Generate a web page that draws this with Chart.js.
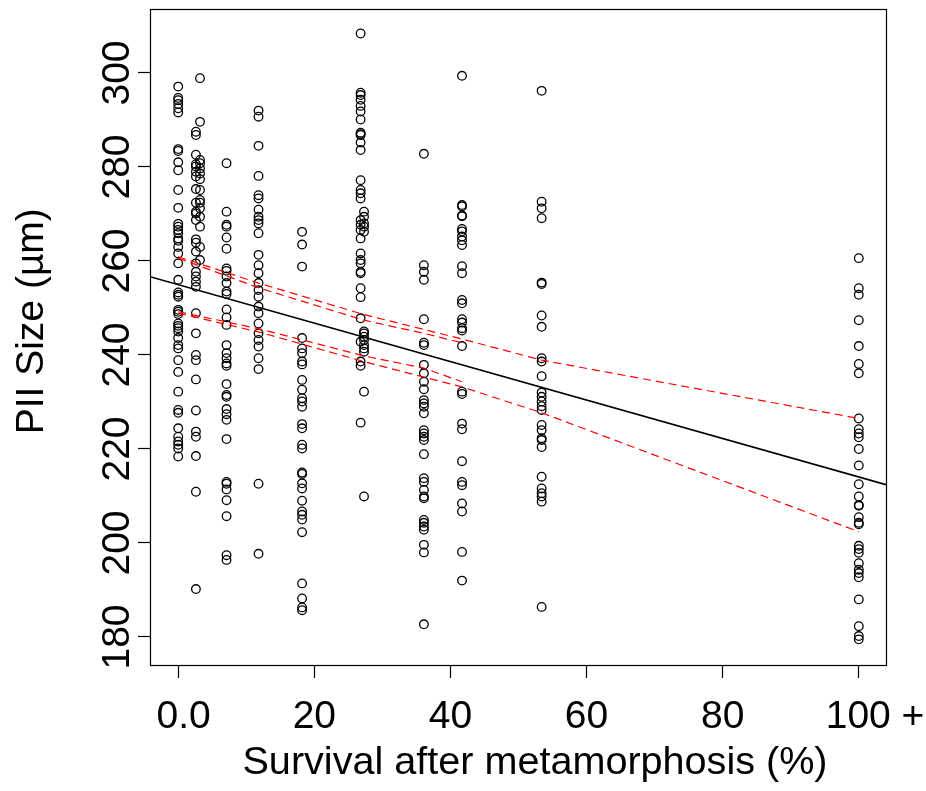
<!DOCTYPE html>
<html><head><meta charset="utf-8">
<script src="https://cdn.jsdelivr.net/npm/chart.js@4.4.1/dist/chart.umd.min.js"></script>
<style>html,body{margin:0;padding:0;background:#fff;} #wrap{width:926px;height:791px;}</style>
</head><body><div id="wrap"><canvas id="c" width="926" height="791"></canvas></div>
<script>
// ---- data ----
const groupX = [0, 2.6, 3.2, 7.1, 11.8, 18.2, 26.8, 27.3, 36.1, 41.7, 53.4, 100];

const y_0 = [297.1, 294.7, 294.2, 293.4, 292.5, 291.6, 283.8, 283.4, 281.0, 279.3, 275.1, 271.3, 267.9, 267.3, 266.6, 265.9, 264.8, 264.3, 263.0, 261.6, 259.5, 256.0, 253.3, 252.8, 252.4, 249.6, 249.2, 248.7, 246.7, 246.2, 245.7, 245.0, 243.6, 242.1, 241.4, 238.9, 236.4, 232.2, 228.3, 227.7, 224.4, 222.6, 221.6, 220.9, 220.1, 218.4];
const y_2_6 = [287.5, 286.8, 282.6, 280.6, 280.1, 279.0, 278.0, 275.3, 272.4, 270.5, 270.1, 268.7, 264.6, 263.9, 262.0, 259.5, 257.7, 256.7, 255.6, 254.5, 248.9, 244.6, 240.0, 238.9, 234.8, 228.2, 223.7, 222.6, 218.5, 210.9, 190.2];
const y_3_2 = [298.9, 289.6, 281.5, 280.8, 279.7, 278.6, 277.4, 275.1, 273.0, 272.4, 271.2, 269.4, 267.3, 263.0, 260.2];
const y_7_1 = [280.8, 270.5, 267.7, 267.3, 265.0, 262.6, 258.4, 257.9, 256.7, 255.3, 253.5, 253.0, 249.7, 248.0, 246.4, 242.1, 240.4, 239.3, 238.2, 237.7, 233.8, 231.5, 231.1, 228.5, 227.4, 226.2, 222.1, 213.0, 212.6, 211.4, 209.1, 205.7, 197.4, 196.4];
const y_11_8 = [292.0, 290.7, 284.5, 278.1, 274.0, 273.3, 270.9, 269.4, 268.7, 268.0, 265.9, 261.3, 259.1, 257.4, 255.3, 253.8, 252.4, 250.3, 248.9, 246.7, 244.6, 243.2, 241.8, 239.3, 237.0, 212.6, 197.7];
const y_18_2 = [266.2, 263.5, 258.8, 243.6, 241.4, 240.4, 238.6, 238.0, 234.7, 232.6, 230.8, 230.1, 229.0, 225.3, 224.4, 220.9, 220.1, 215.0, 214.7, 212.7, 211.6, 209.0, 206.7, 206.0, 205.0, 202.3, 191.4, 188.2, 186.3, 185.7];
const y_26_8 = [308.4, 295.8, 295.3, 294.3, 293.0, 291.8, 290.1, 287.3, 287.0, 286.8, 285.2, 283.6, 277.2, 275.1, 274.4, 273.3, 268.7, 267.7, 266.6, 264.8, 261.6, 260.2, 259.5, 257.7, 257.4, 254.2, 252.3, 247.8, 242.8, 238.6, 237.7, 225.6];
const y_27_3 = [270.5, 269.4, 268.0, 267.3, 266.2, 245.0, 244.6, 243.9, 243.2, 242.1, 241.4, 240.7, 232.2, 209.9];
const y_36_1 = [282.8, 259.1, 257.7, 256.0, 247.6, 242.6, 242.1, 237.9, 236.1, 234.3, 232.7, 230.4, 229.7, 229.0, 227.6, 224.0, 223.3, 222.6, 221.9, 218.9, 213.8, 213.0, 211.3, 209.9, 209.5, 204.9, 204.3, 203.5, 202.8, 199.6, 198.0, 182.7];
const y_41_7 = [299.4, 271.9, 271.6, 269.7, 269.5, 266.8, 266.3, 265.2, 264.4, 263.4, 258.9, 257.4, 251.7, 251.0, 247.6, 246.9, 245.7, 245.2, 241.9, 232.2, 231.7, 225.4, 224.2, 217.4, 213.0, 212.3, 208.4, 206.7, 198.1, 192.0];
const y_53_4 = [296.2, 272.6, 271.2, 269.1, 255.4, 255.1, 248.4, 246.0, 239.3, 238.6, 235.5, 232.0, 231.1, 230.1, 229.1, 228.3, 225.1, 224.0, 222.3, 221.9, 220.4, 214.1, 211.6, 210.6, 209.9, 208.8, 186.4];
const y_100 = [260.6, 254.2, 252.8, 247.4, 241.9, 238.1, 236.1, 226.5, 224.2, 223.3, 222.5, 220.0, 216.5, 212.5, 209.9, 208.1, 207.9, 205.5, 204.3, 204.0, 199.4, 198.7, 197.9, 195.7, 194.3, 193.6, 192.7, 188.0, 182.3, 180.2, 179.5];
const groupY = [y_0, y_2_6, y_3_2, y_7_1, y_11_8, y_18_2, y_26_8, y_27_3, y_36_1, y_41_7, y_53_4, y_100];

// regression line
const fitX = [-4, 104];
const fitY = [256.6, 212.4];

// confidence bands (two overlapping traces each on the left part)
const upperX1 = [0, 11.8, 27.3, 41.7, 53.4, 100];
const upperY1 = [260.9, 255.3, 248.6, 243.4, 238.9, 226.5];
const upperX2 = [0, 11.8, 27.3, 36.1, 41.7];
const upperY2 = [260.6, 254.3, 247.4, 244.6, 242.6];
const lowerX1 = [0, 11.8, 27.3, 41.7, 53.4, 100];
const lowerY1 = [248.9, 244.9, 238.6, 233.2, 227.7, 202.4];
const lowerX2 = [0, 11.8, 27.3, 36.1, 41.7];
const lowerY2 = [249.2, 245.6, 239.8, 237.2, 234.3];

const xTickValues = [0, 20, 40, 60, 80, 100];
const xTickLabels = ['0.0', '20', '40', '60', '80', '100 +'];
const yTickValues = [180, 200, 220, 240, 260, 280, 300];
const xTitle = 'Survival after metamorphosis (%)';
const yTitle = 'PII Size (µm)';

// ---- build ----
const FONT = "'Liberation Sans', Arial, Helvetica, sans-serif";
const pts = [];
groupX.forEach((gx, i) => groupY[i].forEach(v => pts.push({x: gx, y: v})));
const zip = (xs, ys) => xs.map((x, i) => ({x, y: ys[i]}));
// label alignment in the reference: "0.0" sits a little right of its tick, "100" is centred with the "+" hanging right
const xLabelLead = ['\u00a0', '', '', '', '', '\u00a0\u00a0\u00a0'];

const lineDs = (data, color, dash, width) => ({
  type: 'scatter', data, showLine: true, borderColor: color, borderWidth: width,
  borderDash: dash, pointRadius: 0, fill: false, tension: 0
});

const frame = {
  id: 'frame',
  afterDraw(chart) {
    const {ctx, chartArea: a} = chart;
    ctx.save();
    ctx.strokeStyle = '#000';
    ctx.lineWidth = 1.2;
    ctx.strokeRect(a.left - 0.5, a.top - 0.5, a.right - a.left + 1, a.bottom - a.top + 1);
    ctx.restore();
  }
};

new Chart(document.getElementById('c'), {
  type: 'scatter',
  data: {
    datasets: [
      lineDs(zip(upperX1, upperY1), '#ff0000', [8, 5], 1.2),
      lineDs(zip(upperX2, upperY2), '#ff0000', [8, 5], 1.2),
      lineDs(zip(lowerX1, lowerY1), '#ff0000', [8, 5], 1.2),
      lineDs(zip(lowerX2, lowerY2), '#ff0000', [8, 5], 1.2),
      lineDs(zip(fitX, fitY), '#000000', [], 1.7),
      {
        type: 'scatter', data: pts, showLine: false,
        pointStyle: 'circle', pointRadius: 4.3, borderWidth: 1.3,
        borderColor: '#000', backgroundColor: 'rgba(0,0,0,0)'
      }
    ]
  },
  options: {
    responsive: false, animation: false, devicePixelRatio: 1,
    layout: {padding: {top: 10, right: 40, bottom: 0, left: 0}},
    plugins: {legend: {display: false}, tooltip: {enabled: false}},
    scales: {
      x: {
        type: 'linear', position: 'bottom', min: -4, max: 104,
        afterBuildTicks: s => { s.ticks = xTickValues.map(v => ({value: v})); },
        afterFit: s => { s.height = 126; s.paddingLeft = 0; s.paddingRight = 0; },
        ticks: {
          autoSkip: false, maxRotation: 0, minRotation: 0, padding: 16, color: '#000',
          font: {family: FONT, size: 39},
          callback: v => { const i = xTickValues.indexOf(v); return xLabelLead[i] + xTickLabels[i]; }
        },
        grid: {drawOnChartArea: false, drawTicks: true, tickLength: 13, tickColor: '#000', tickWidth: 1.2, color: '#000'},
        border: {display: false},
        title: {display: true, text: '\u00a0\u00a0\u00a0' + xTitle, color: '#000', font: {family: FONT, size: 39.6, lineHeight: 1}, padding: {top: 0, bottom: 8}}
      },
      y: {
        type: 'linear', position: 'left', min: 174.04, max: 313.4,
        afterBuildTicks: s => { s.ticks = yTickValues.map(v => ({value: v})); },
        afterFit: s => { s.width = 151; s.paddingTop = 0; s.paddingBottom = 0; },
        ticks: {
          autoSkip: false, minRotation: 90, maxRotation: 90, crossAlign: 'center', padding: -13,
          color: '#000', font: {family: FONT, size: 39},
          callback: v => String(v)
        },
        grid: {drawOnChartArea: false, drawTicks: true, tickLength: 13, tickColor: '#000', tickWidth: 1.2, color: '#000'},
        border: {display: false},
        title: {display: true, text: '\u00a0\u00a0\u00a0' + yTitle, color: '#000', font: {family: FONT, size: 39, lineHeight: 1}, padding: {top: 13, bottom: 0}}
      }
    }
  },
  plugins: [frame]
});
</script>
</body></html>
